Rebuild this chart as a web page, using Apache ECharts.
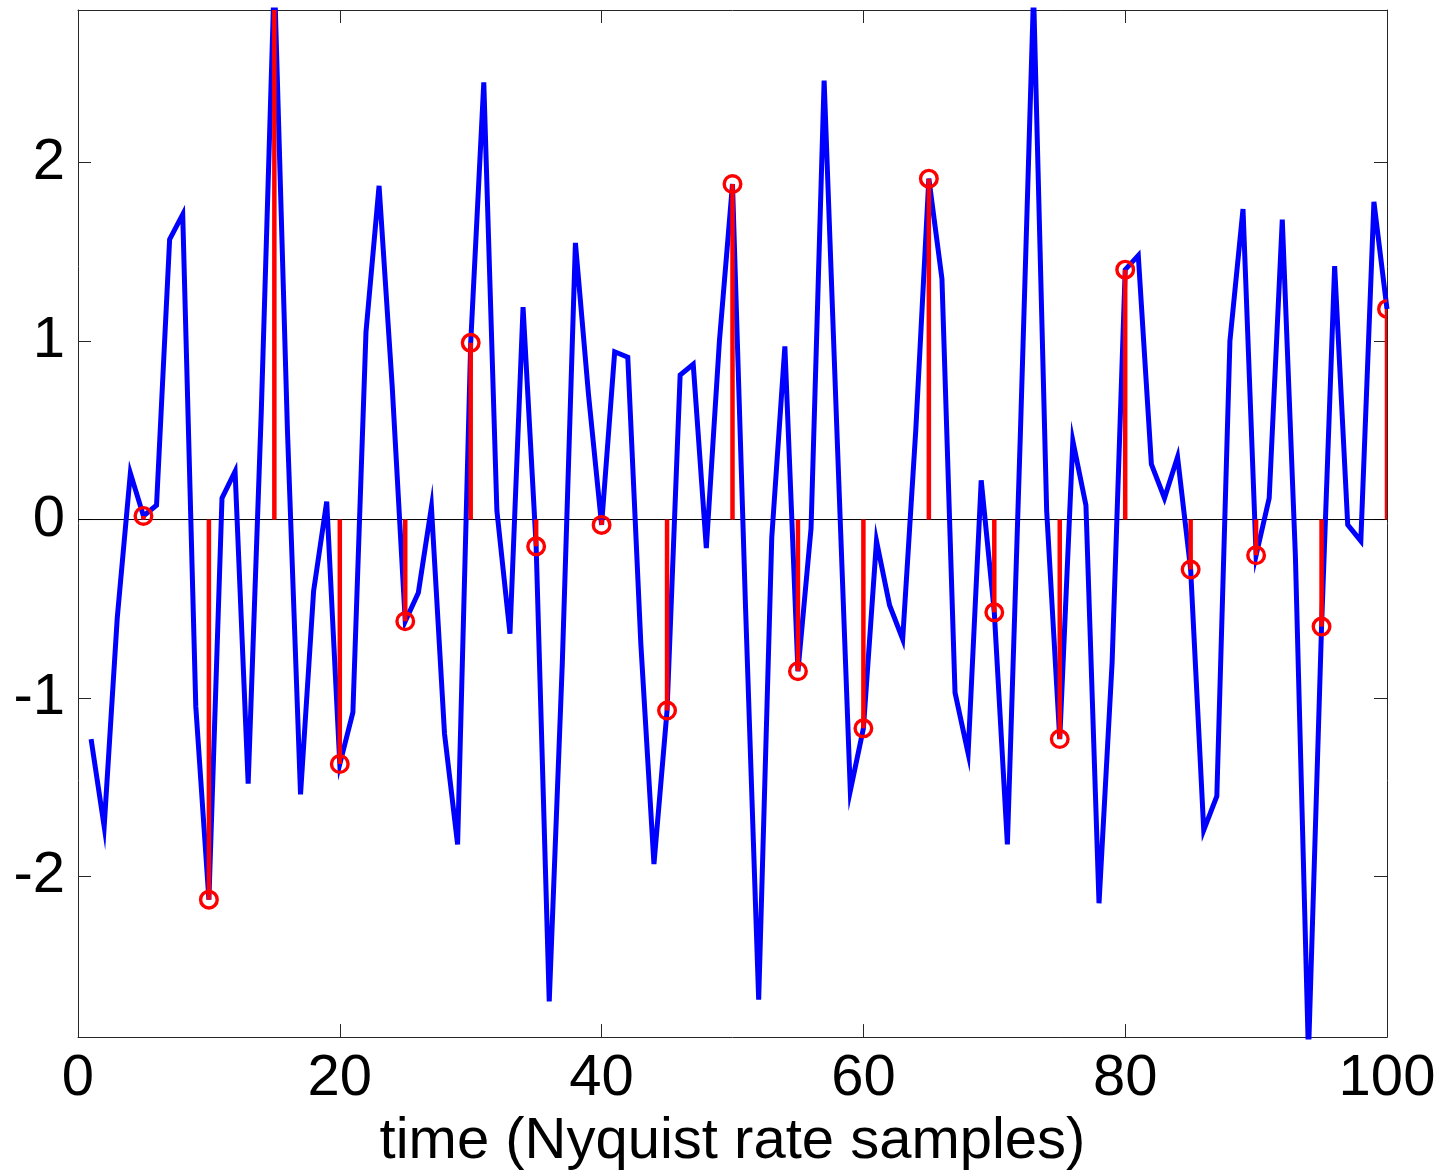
<!DOCTYPE html>
<html>
<head>
<meta charset="utf-8">
<script src="https://cdn.jsdelivr.net/npm/echarts@6/dist/echarts.min.js"></script>
<style>
html,body{margin:0;padding:0;background:#fff;}
#chart{width:1442px;height:1176px;}
</style>
</head>
<body>
<div id="chart"></div>
<script>
// Nyquist-rate signal, samples 1..100
const timeIndex = [1,2,3,4,5,6,7,8,9,10,11,12,13,14,15,16,17,18,19,20,21,22,23,24,25,26,27,28,29,30,31,32,33,34,35,36,37,38,39,40,41,42,43,44,45,46,47,48,49,50,51,52,53,54,55,56,57,58,59,60,61,62,63,64,65,66,67,68,69,70,71,72,73,74,75,76,77,78,79,80,81,82,83,84,85,86,87,88,89,90,91,92,93,94,95,96,97,98,99,100];
const signalValues = [
  -1.23,-1.72,-0.55,0.26,0.02,0.08,1.57,1.71,-1.05,-2.13,
  0.12,0.27,-1.48,0.6,3.05,0.5,-1.54,-0.4,0.1,-1.37,
  -1.08,1.05,1.87,0.75,-0.57,-0.41,0.07,-1.2,-1.82,0.99,
  2.45,0.05,-0.64,1.19,-0.15,-2.7,-0.8,1.55,0.7,-0.03,
  0.94,0.91,-0.7,-1.93,-1.07,0.81,0.87,-0.16,1.0,1.88,
  -0.5,-2.69,-0.1,0.97,-0.85,-0.05,2.46,0.45,-1.52,-1.17,
  -0.12,-0.48,-0.67,0.5,1.91,1.35,-0.97,-1.31,0.22,-0.52,
  -1.82,0.5,2.95,0.05,-1.23,0.44,0.08,-2.15,-0.8,1.40,
  1.48,0.31,0.12,0.35,-0.28,-1.74,-1.55,1.0,1.74,-0.2,
  0.12,1.68,-0.2,-3.0,-0.6,1.42,-0.03,-0.12,1.78,1.18
];
// Sub-sampled points (every 5th sample)
const sampleIndex = [5,10,15,20,25,30,35,40,45,50,55,60,65,70,75,80,85,90,95,100];
const sampleValues = [0.02,-2.13,3.05,-1.37,-0.57,0.99,-0.15,-0.03,-1.07,1.88,-0.85,-1.17,1.91,-0.52,-1.23,1.40,-0.28,-0.2,-0.6,1.18];
const xTicks = [0,20,40,60,80,100];
const yTicks = [-2,-1,0,1,2];
const xName = 'time (Nyquist rate samples)';

const FONT = "'Liberation Sans', Arial, sans-serif";
const AX = '#262626';
const chart = echarts.init(document.getElementById('chart'), null, {renderer:'canvas'});

function xAx(pos, show){
  return {
    type:'value', position:pos, min:0, max:100, interval:20,
    axisLine:{show:true, onZero:false, lineStyle:{color:AX, width:1}},
    axisTick:{show:true, inside:true, length:13, lineStyle:{color:AX, width:1}},
    splitLine:{show:false},
    axisLabel:{show:show, margin:13, fontSize:58, fontFamily:FONT, color:'#000'},
    name: show ? xName : '', nameLocation:'middle', nameGap:75,
    nameTextStyle:{fontSize:58, fontFamily:FONT, color:'#000'}
  };
}
function yAx(pos, show){
  return {
    type:'value', position:pos, min:-2.9, max:2.855,
    axisLine:{show:true, onZero:false, lineStyle:{color:AX, width:1}},
    axisTick:{show:true, inside:true, length:13, customValues:yTicks, lineStyle:{color:AX, width:1}},
    splitLine:{show:false},
    axisLabel:{show:show, margin:13, fontSize:58, fontFamily:FONT, color:'#000', customValues:yTicks}
  };
}

const lineData = timeIndex.map((t,i)=>[t, signalValues[i]]);
const stemData = sampleIndex.map((t,i)=>[t, sampleValues[i]]);

chart.setOption({
  animation:false,
  backgroundColor:'#fff',
  grid:{left:78, top:10, width:1309, height:1033, containLabel:false},
  xAxis:[xAx('bottom', true), xAx('top', false)],
  yAxis:[yAx('left', true), yAx('right', false)],
  series:[
    {
      type:'line', data:[[xTicks[0],0],[xTicks[xTicks.length-1],0]],
      showSymbol:false, silent:true, z:1,
      lineStyle:{color:'#000', width:1}
    },
    {
      type:'line', data:lineData, showSymbol:false, clip:true, z:2,
      lineStyle:{color:'#0000ff', width:5, join:'miter'}
    },
    {
      type:'custom', data:stemData, clip:true, z:3,
      renderItem:function(params, api){
        const x = api.value(0), y = api.value(1);
        const p0 = api.coord([x,0]);
        const p1 = api.coord([x,y]);
        return {type:'group', children:[
          {type:'line', shape:{x1:p0[0], y1:p0[1], x2:p1[0], y2:p1[1]}, style:{stroke:'#ff0000', lineWidth:4.5}},
          {type:'circle', shape:{cx:p1[0], cy:p1[1], r:8.3}, style:{fill:null, stroke:'#ff0000', lineWidth:3.4}}
        ]};
      }
    }
  ]
});
</script>
</body>
</html>
